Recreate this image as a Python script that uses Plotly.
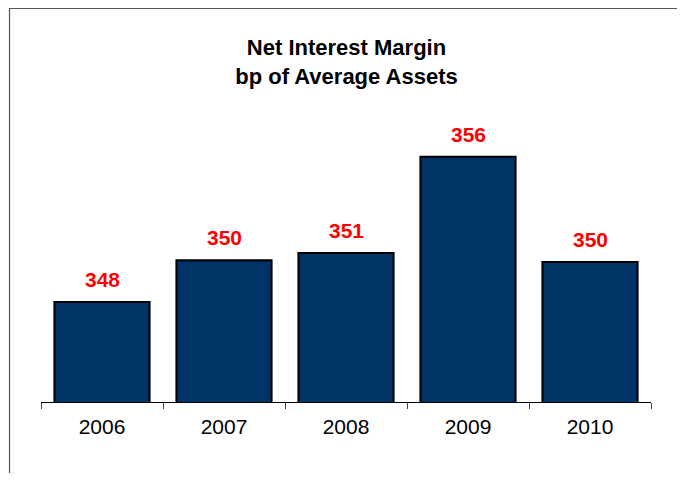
"""Net interest margin bar chart, bp of average assets."""

import plotly.graph_objects as go

years = ["2006", "2007", "2008", "2009", "2010"]
nim_bp = [348.0, 350.3, 350.7, 356.0, 350.2]
nim_labels = ["348", "350", "351", "356", "350"]

FONT = "Liberation Sans, Arial, sans-serif"
NAVY = "#003366"

fig = go.Figure(
    go.Bar(
        x=years,
        y=nim_bp,
        marker_color=NAVY,
        marker_line=dict(color="black", width=2),
        showlegend=False,
        hoverinfo="skip",
    )
)

# value labels above each bar; category axis wants the serial index here,
# a numeric-looking name like "2006" would be read as position 2006
for i, (val, lbl) in enumerate(zip(nim_bp, nim_labels)):
    fig.add_annotation(
        x=i, y=val, text=f"<b>{lbl}</b>",
        showarrow=False, yanchor="bottom", yshift=9,
        font=dict(family=FONT, size=21, color="#ff0000"),
    )

# outer frame around the chart (bottom runs off the page)
fig.add_shape(
    type="rect", xref="paper", yref="paper",
    x0=-0.0516, x1=1.05, y0=-0.3, y1=1.303,
    line=dict(color="#555555", width=1.2),
    layer="above",
)

fig.update_xaxes(
    type="category", range=[-0.5, len(years) - 0.5],
    showline=True, linecolor="black", linewidth=1,
    ticks="outside", tickson="boundaries", ticklen=6, tickcolor="#444444",
    tickfont=dict(family=FONT, size=21, color="black"),
    ticklabelstandoff=6, tickangle=0, showgrid=False,
)
fig.update_yaxes(visible=False, range=[342.49, 359.12], showgrid=False)

# page body adds an 8px margin; keep the page short enough to avoid a scrollbar
fig.update_layout(
    title=dict(
        text="<b>Net Interest Margin<br>bp of Average Assets</b>",
        x=0.5, xanchor="center", y=1 - 47 / 465, yanchor="top",
        font=dict(family=FONT, size=22, color="black"),
    ),
    width=677, height=465,
    margin=dict(l=33, r=34, t=92, b=71),
    bargap=0.22,
    plot_bgcolor="white", paper_bgcolor="white",
)

fig.write_html("out.html")
